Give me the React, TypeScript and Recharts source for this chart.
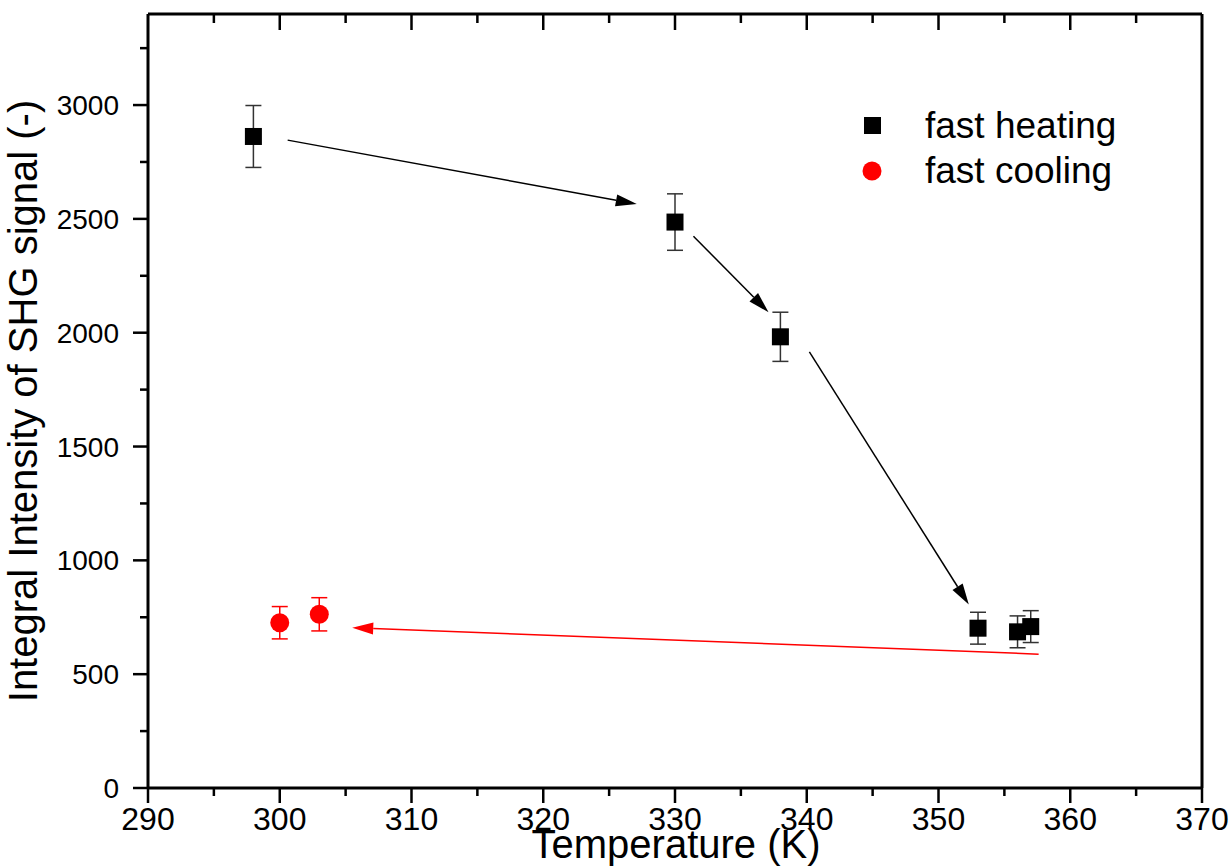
import { ScatterChart, Scatter, XAxis, YAxis, ErrorBar, ReferenceLine } from 'recharts';

// fast heating (black squares)
const heatTemp = [298, 330, 338, 353, 356, 357];
const heatSignal = [2862, 2486, 1982, 702, 686, 709];
const heatErr = [136, 124, 108, 70, 70, 70];

// fast cooling (red circles)
const coolTemp = [300, 303];
const coolSignal = [726, 763];
const coolErr = [71, 73];

const xTicks = [290, 295, 300, 305, 310, 315, 320, 325, 330, 335, 340, 345, 350, 355, 360, 365, 370];
const yTicks = [0, 250, 500, 750, 1000, 1250, 1500, 1750, 2000, 2250, 2500, 2750, 3000, 3250];
const xMax = 370;
const yMax = 3400;

// annotation arrows: [T, signal] start and end
const arrowFrom = [
  [300.6, 2846],
  [331.4, 2424],
  [340.2, 1916],
  [357.6, 588],
];
const arrowTo = [
  [327.1, 2565],
  [337.1, 2090],
  [352.3, 806],
  [305.5, 704],
];
const arrowColor = ['#000', '#000', '#000', '#ff0000'];

const heatData = heatTemp.map((t, i) => ({ t, s: heatSignal[i], err: heatErr[i] }));
const coolData = coolTemp.map((t, i) => ({ t, s: coolSignal[i], err: coolErr[i] }));
const topTickData = xTicks.filter((t) => t > 290 && t < xMax).map((t) => ({ t, s: yMax }));

const FONT = '"Liberation Sans", Arial, sans-serif';

const BottomTick = (props: any) => {
  const { x, y, payload } = props;
  const major = payload.value % 10 === 0;
  return (
    <g>
      <line x1={x} y1={y} x2={x} y2={y + (major ? 15 : 8)} stroke="#000" strokeWidth={2.5} />
      {major && (
        <text x={x} y={y + 42} textAnchor="middle" fontSize={32} fontFamily={FONT} fill="#000">
          {payload.value}
        </text>
      )}
    </g>
  );
};

// inward tick hanging from the top frame
const TopTickMark = (props: any) => {
  const { cx, cy, payload } = props;
  const major = payload.t % 10 === 0;
  return <line x1={cx} y1={cy} x2={cx} y2={cy + (major ? 16 : 9)} stroke="#000" strokeWidth={2.5} />;
};

const LeftTick = (props: any) => {
  const { x, y, payload } = props;
  const major = payload.value % 500 === 0;
  return (
    <g>
      <line x1={x} y1={y} x2={x - (major ? 15 : 8)} y2={y} stroke="#000" strokeWidth={2.5} />
      {major && (
        <text x={x - 29} y={y + 10} textAnchor="end" fontSize={28} fontFamily={FONT} fill="#000">
          {payload.value}
        </text>
      )}
    </g>
  );
};

const Square = (props: any) => {
  const { cx, cy } = props;
  return <rect x={cx - 8.5} y={cy - 8.5} width={17} height={17} fill="#000" />;
};

const Dot = (props: any) => {
  const { cx, cy } = props;
  return <circle cx={cx} cy={cy} r={9.5} fill="#ff0000" />;
};

const Arrow = (color: string) => (props: any) => {
  const { x1, y1, x2, y2 } = props;
  const dx = x2 - x1;
  const dy = y2 - y1;
  const len = Math.sqrt(dx * dx + dy * dy);
  const ux = dx / len;
  const uy = dy / len;
  const hl = 21;
  const hw = 6;
  const bx = x2 - ux * hl;
  const by = y2 - uy * hl;
  return (
    <g>
      <line x1={x1} y1={y1} x2={bx} y2={by} stroke={color} strokeWidth={1.5} />
      <polygon
        points={`${x2},${y2} ${bx - uy * hw},${by + ux * hw} ${bx + uy * hw},${by - ux * hw}`}
        fill={color}
      />
    </g>
  );
};

export default function App() {
  return (
    <div style={{ position: 'absolute', left: 0, top: 0, background: '#fff' }}>
      <ScatterChart width={1231} height={868} margin={{ top: 14, right: 29, bottom: 0, left: 0 }}>
        <XAxis
          type="number"
          dataKey="t"
          domain={[290, xMax]}
          ticks={xTicks}
          interval={0}
          height={80}
          tickSize={0}
          tickMargin={0}
          tickLine={false}
          tick={<BottomTick />}
          axisLine={{ stroke: '#000', strokeWidth: 3 }}
        />
        <YAxis
          type="number"
          dataKey="s"
          domain={[0, yMax]}
          ticks={yTicks}
          interval={0}
          width={148}
          tickSize={0}
          tickMargin={0}
          tickLine={false}
          tick={<LeftTick />}
          axisLine={{ stroke: '#000', strokeWidth: 3 }}
        />
        <text
          x={37}
          y={401}
          transform="rotate(-90, 37, 401)"
          textAnchor="middle"
          fontSize={40}
          fontFamily={FONT}
          fill="#000"
        >
          Integral Intensity of SHG signal (-)
        </text>
        <text x={676} y={858} textAnchor="middle" fontSize={40} fontFamily={FONT} fill="#000">
          Temperature (K)
        </text>
        {/* legend */}
        <g>
          <rect x={864} y={117} width={17} height={17} fill="#000" />
          <text x={925} y={138} fontSize={37} fontFamily={FONT} fill="#000">fast heating</text>
          <circle cx={872} cy={171} r={9.5} fill="#ff0000" />
          <text x={925} y={183} fontSize={37} fontFamily={FONT} fill="#000">fast cooling</text>
        </g>
        {/* top and right frame */}
        <ReferenceLine y={yMax} stroke="#000" strokeWidth={3} />
        <ReferenceLine x={xMax} stroke="#000" strokeWidth={3} />
        {arrowFrom.map((f, i) => (
          <ReferenceLine
            key={`arrow-${i}`}
            segment={[
              { x: f[0], y: f[1] },
              { x: arrowTo[i][0], y: arrowTo[i][1] },
            ]}
            stroke={arrowColor[i]}
            shape={Arrow(arrowColor[i])}
          />
        ))}
        <Scatter data={topTickData} shape={<TopTickMark />} isAnimationActive={false} />
        <Scatter name="fast heating" data={heatData} shape={<Square />} isAnimationActive={false}>
          <ErrorBar dataKey="err" direction="y" width={8} stroke="#333" strokeWidth={1.5} />
        </Scatter>
        <Scatter name="fast cooling" data={coolData} shape={<Dot />} isAnimationActive={false}>
          <ErrorBar dataKey="err" direction="y" width={8} stroke="#ff0000" strokeWidth={1.5} />
        </Scatter>
      </ScatterChart>
    </div>
  );
}
